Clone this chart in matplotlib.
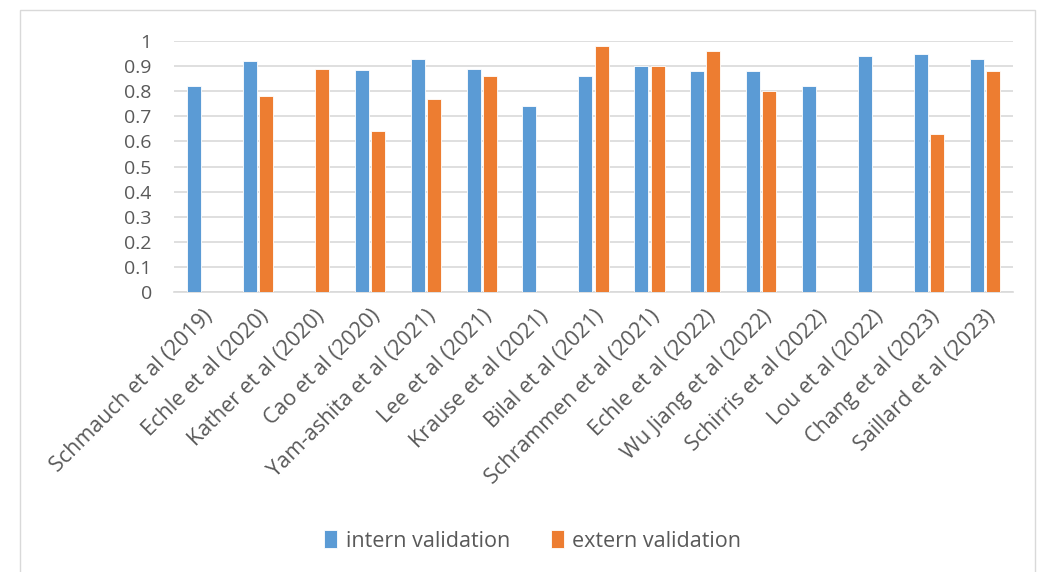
import numpy as np
import matplotlib
matplotlib.use("Agg")
import matplotlib.pyplot as plt
from matplotlib.patches import Rectangle

categories = ["Schmauch et al (2019)", "Echle et al (2020)", "Kather et al (2020)",
              "Cao et al (2020)", "Yam-ashita et al (2021)", "Lee et al (2021)",
              "Krause et al (2021)", "Bilal et al (2021)", "Schrammen et al (2021)",
              "Echle et al (2022)", "Wu Jiang et al (2022)", "Schirris et al (2022)",
              "Lou et al (2022)", "Chang et al (2023)", "Saillard et al (2023)"]
intern = [0.82, 0.92, np.nan, 0.885, 0.93, 0.89, 0.74, 0.86, 0.90, 0.88, 0.88, 0.82, 0.94, 0.95, 0.93]
extern = [np.nan, 0.78, 0.89, 0.64, 0.77, 0.86, np.nan, 0.98, 0.90, 0.96, 0.80, np.nan, np.nan, 0.63, 0.88]
yticks = [0, 0.1, 0.2, 0.3, 0.4, 0.5, 0.6, 0.7, 0.8, 0.9, 1]
ytick_labels = ["0", "0.1", "0.2", "0.3", "0.4", "0.5", "0.6", "0.7", "0.8", "0.9", "1"]

plt.rcParams['font.family'] = ['Open Sans', 'DejaVu Sans']
blue = "#5b9bd5"
orange = "#ed7d31"
txt = "#595959"

fig = plt.figure(figsize=(10.49, 5.72), dpi=100)
fig.patches.append(Rectangle((20/1049, -0.01), 1015/1049, 1 - 10/572 + 0.01,
                             transform=fig.transFigure, fill=False,
                             edgecolor="#d9d9d9", linewidth=1))
ax = fig.add_axes([174/1049, 1 - 292/572, (1013-174)/1049, (292-41)/572])

x = np.arange(len(categories))
w = 0.25
ax.bar(x - 0.145, intern, width=w, color=blue, edgecolor="white", linewidth=0.6,
       label="intern validation", zorder=3)
ax.bar(x + 0.145, extern, width=w, color=orange, edgecolor="white", linewidth=0.6,
       label="extern validation", zorder=3)

ax.set_xlim(-0.5, len(categories) - 0.5)
ax.set_ylim(0, 1)
ax.set_yticks(yticks)
ax.set_yticklabels(ytick_labels)
ax.yaxis.grid(True, color="#d9d9d9", linewidth=1.2, zorder=0)
ax.set_axisbelow(True)
for s in ["top", "right", "left"]:
    ax.spines[s].set_visible(False)
ax.spines["bottom"].set_color("#d9d9d9")
ax.spines["bottom"].set_linewidth(1.2)
ax.tick_params(axis="both", length=0, colors=txt, labelsize=14)
ax.tick_params(axis="y", pad=16)
ax.set_xticks(x)
ax.set_xticklabels(categories, rotation=45, ha="right", rotation_mode="anchor",
                   fontsize=15.5, color=txt)
ax.tick_params(axis="x", pad=10)

leg = fig.legend(loc="center", bbox_to_anchor=(0.508, 1 - 541/572), ncol=2, frameon=False,
                 fontsize=15.5, handlelength=0.6, handleheight=0.9, columnspacing=1.9,
                 handletextpad=0.4)
for t in leg.get_texts():
    t.set_color(txt)

fig.savefig("out.png", dpi=100)
